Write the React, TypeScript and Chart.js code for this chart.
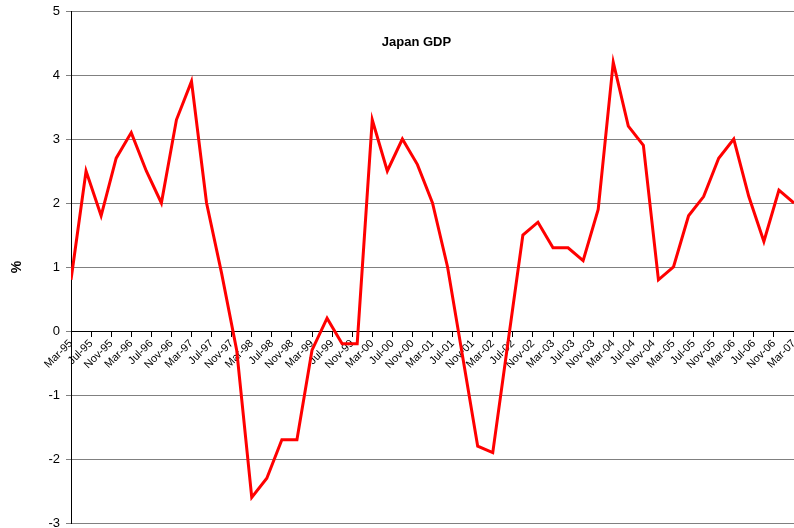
import React, { useEffect, useRef } from "react";
import { Chart, registerables } from "chart.js";

Chart.register(...registerables);

const quarters: string[] = [
  "Mar-95", "Jun-95", "Sep-95", "Dec-95",
  "Mar-96", "Jun-96", "Sep-96", "Dec-96",
  "Mar-97", "Jun-97", "Sep-97", "Dec-97",
  "Mar-98", "Jun-98", "Sep-98", "Dec-98",
  "Mar-99", "Jun-99", "Sep-99", "Dec-99",
  "Mar-00", "Jun-00", "Sep-00", "Dec-00",
  "Mar-01", "Jun-01", "Sep-01", "Dec-01",
  "Mar-02", "Jun-02", "Sep-02", "Dec-02",
  "Mar-03", "Jun-03", "Sep-03", "Dec-03",
  "Mar-04", "Jun-04", "Sep-04", "Dec-04",
  "Mar-05", "Jun-05", "Sep-05", "Dec-05",
  "Mar-06", "Jun-06", "Sep-06", "Dec-06",
  "Mar-07",
];

const gdpGrowth: number[] = [
  0.8, 2.5, 1.8, 2.7,
  3.1, 2.5, 2.0, 3.3,
  3.9, 2.0, 0.9, -0.3,
  -2.6, -2.3, -1.7, -1.7,
  -0.3, 0.2, -0.2, -0.2,
  3.3, 2.5, 3.0, 2.6,
  2.0, 1.0, -0.4, -1.8,
  -1.9, -0.2, 1.5, 1.7,
  1.3, 1.3, 1.1, 1.9,
  4.2, 3.2, 2.9, 0.8,
  1.0, 1.8, 2.1, 2.7,
  3.0, 2.1, 1.4, 2.2,
  2.0,
];

const tickLabels: string[] = [
  "Mar-95", "Jul-95", "Nov-95", "Mar-96", "Jul-96", "Nov-96",
  "Mar-97", "Jul-97", "Nov-97", "Mar-98", "Jul-98", "Nov-98",
  "Mar-99", "Jul-99", "Nov-99", "Mar-00", "Jul-00", "Nov-00",
  "Mar-01", "Jul-01", "Nov-01", "Mar-02", "Jul-02", "Nov-02",
  "Mar-03", "Jul-03", "Nov-03", "Mar-04", "Jul-04", "Nov-04",
  "Mar-05", "Jul-05", "Nov-05", "Mar-06", "Jul-06", "Nov-06",
  "Mar-07",
];

const chartTitle = "Japan GDP";
const yAxisTitle = "%";
const MONTHS_PER_QUARTER = 3;
const MONTHS_PER_TICK = 4;

const FONT = "'Liberation Sans', Arial, sans-serif";

export default function App() {
  const ref = useRef<HTMLCanvasElement | null>(null);

  useEffect(() => {
    if (!ref.current) return;
    const points = gdpGrowth.map((v, i) => ({ x: i * MONTHS_PER_QUARTER, y: v }));

    const titlePlugin = {
      id: "innerTitle",
      afterDraw(chart: any) {
        const { ctx, chartArea } = chart;
        ctx.save();
        ctx.font = `bold 13px ${FONT}`;
        ctx.fillStyle = "#000";
        ctx.textAlign = "center";
        ctx.textBaseline = "middle";
        const cx = (chartArea.left + chartArea.right) / 2 - 16;
        ctx.fillText(chartTitle, cx, chartArea.top + 31);
        ctx.restore();
      },
    };

    const chart = new Chart(ref.current, {
      type: "line",
      data: {
        labels: quarters,
        datasets: [
          {
            label: chartTitle,
            data: points as any,
            borderColor: "#ff0000",
            backgroundColor: "#ff0000",
            borderWidth: 3,
            pointRadius: 0,
            pointHoverRadius: 0,
            tension: 0,
            fill: false,
          },
        ],
      },
      options: {
        animation: false,
        responsive: false,
        layout: { padding: { top: 11, bottom: 5, left: 0, right: 0 } },
        plugins: {
          legend: { display: false },
          tooltip: { enabled: false },
          title: { display: false },
        },
        scales: {
          x: {
            type: "linear",
            position: { y: 0 } as any,
            min: 0,
            max: (tickLabels.length - 1) * MONTHS_PER_TICK,
            ticks: {
              stepSize: MONTHS_PER_TICK,
              autoSkip: false,
              maxRotation: 45,
              minRotation: 45,
              padding: 1,
              color: "#000",
              font: { family: FONT, size: 11 },
              callback: (value: any) => {
                const idx = Math.round(Number(value) / MONTHS_PER_TICK);
                return tickLabels[idx] ?? "";
              },
            },
            grid: {
              drawOnChartArea: false,
              drawTicks: true,
              tickLength: 5,
              color: "#000",
            },
            border: { color: "#000", width: 1 },
            afterFit: (scale: any) => {
              scale.paddingLeft = 0;
              scale.paddingRight = 0;
            },
          },
          y: {
            type: "linear",
            min: -3,
            max: 5,
            ticks: {
              stepSize: 1,
              padding: 6,
              color: "#000",
              font: { family: FONT, size: 13 },
            },
            grid: {
              color: "#808080",
              tickColor: "#808080",
              tickLength: 5,
            },
            border: { color: "#000", width: 1 },
            title: {
              display: true,
              text: yAxisTitle,
              color: "#000",
              font: { family: FONT, size: 14, weight: "bold" },
              padding: { top: 9, bottom: 4 },
            },
            afterFit: (scale: any) => {
              scale.width = 71;
              scale.paddingTop = 0;
              scale.paddingBottom = 0;
            },
          },
        },
      },
      plugins: [titlePlugin],
    });

    return () => chart.destroy();
  }, []);

  return (
    <div style={{ position: "fixed", left: 0, top: 0, width: 794, height: 528, background: "#fff" }}>
      <canvas ref={ref} width={794} height={528} style={{ display: "block" }} />
    </div>
  );
}
